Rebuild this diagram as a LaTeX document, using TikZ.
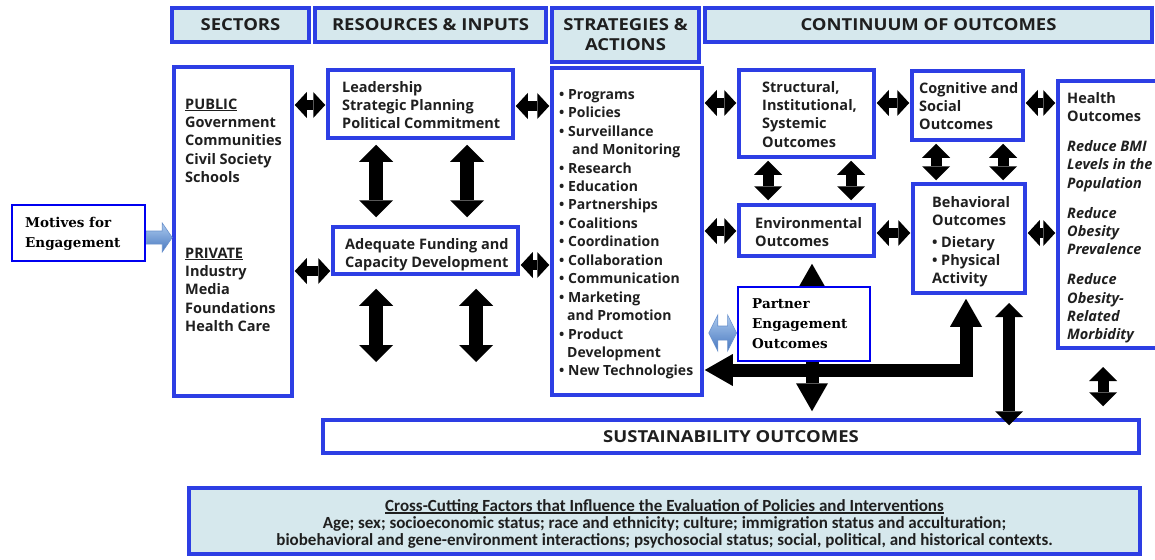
\documentclass[tikz,border=0pt]{standalone}
\usepackage{fontspec}
\setmainfont{Open Sans}
\newfontfamily\hdrfont{Open Sans}[FakeStretch=1.12]
\newfontfamily\serfont{DejaVu Serif}
\newfontfamily\botfont{Carlito}
\usetikzlibrary{arrows.meta,fit,calc}
\definecolor{bblue}{RGB}{45,62,228}
\definecolor{pblue}{RGB}{0,0,240}
\definecolor{hfill}{RGB}{214,232,237}
\definecolor{gtop}{RGB}{172,202,238}
\definecolor{gbot}{RGB}{72,120,192}
\definecolor{gedge}{RGB}{105,145,205}
\newcommand\fl{\rule{0pt}{11pt}}
\newcommand\ulx[1]{\setbox0\hbox{#1}\rlap{\rule[-2.2pt]{\wd0}{1.1pt}}\box0}
\newcommand\bul{\makebox[9pt][l]{•}}
\tikzset{
  box/.style={draw=bblue, line width=3.5pt, inner sep=0pt, fill=white},
  hbox/.style={box, fill=hfill},
  hdr/.style={inner sep=0pt, font=\hdrfont\bfseries\fontsize{16.5}{20}\selectfont, text=black!88},
  pbox/.style={draw=pblue, line width=2.8pt, inner sep=0pt, fill=white},
  txt/.style={anchor=north west, inner sep=0pt, align=left, font=\bfseries\fontsize{14.5}{18.3}\selectfont, text=black!88},
  stxt/.style={anchor=north west, inner sep=0pt, align=left, font=\serfont\bfseries\fontsize{13.5}{20}\selectfont, text=black},
  tipS/.tip={Triangle[length=12pt,width=26pt,line width=0pt]},
  tipV/.tip={Triangle[length=17pt,width=34pt,line width=0pt]},
  tipO/.tip={Triangle[length=14pt,width=28pt,line width=0pt]},
  tipB/.tip={Triangle[length=28pt,width=32pt,line width=0pt]},
  harr/.style={line width=10pt, tipS-tipS, shorten <=1pt, shorten >=1pt},
  varr/.style={line width=14pt, tipV-tipV},
  oarr/.style={line width=11pt, tipO-tipO},
  barr/.style={line width=13pt, tipB-tipB, line join=miter},
  garrow/.style={top color=gtop, bottom color=gbot, draw=gedge, line width=0.6pt}
}
\begin{document}
\begin{tikzpicture}[x=1pt,y=-1pt]
\useasboundingbox (0,0) rectangle (1155,559);
\fill[white] (0,0) rectangle (1155,559);

% headers
\node[hbox, fit={(172,8)(309,42)}] (hsec) {};
\node[hdr] (hsect) at (hsec.center) {SECTORS};
\node[hbox, fit={(315,8)(546,42)}] (hres) {};
\node[hdr] (hrest) at (hres.center) {RESOURCES \& INPUTS};
\node[hbox, fit={(552,8)(699,62)}] (hstr) {};
\node[hdr, align=center] (hstrt) at (hstr.center) {STRATEGIES \&\\ACTIONS};
\node[hbox, fit={(705,8)(1152,42)}] (hcon) {};
\node[hdr] (hcont) at (hcon.center) {CONTINUUM OF OUTCOMES};

% sectors
\node[box, fit={(174,67)(292,396)}] (sec) {};
\node[txt] (secpub) at (185,98) {\fl\ulx{PUBLIC}\\Government\\Communities\\Civil Society\\Schools};
\node[txt] (secpri) at (185,247) {\fl\ulx{PRIVATE}\\Industry\\Media\\Foundations\\Health Care};

% motives
\node[pbox, fit={(12,205)(145,261)}] (mot) {};
\node[stxt] (mott) at (25,216) {\fl Motives for\\Engagement};

% resources
\node[box, fit={(328,70)(513,138)}] (lead) {};
\node[txt] (leadt) at (342,81) {\fl Leadership\\Strategic Planning\\Political Commitment};
\node[box, fit={(333,227)(518,274)}] (fund) {};
\node[txt] (fundt) at (345,238) {\fl Adequate Funding and\\Capacity Development};

% strategies
\node[box, fit={(552,68)(702,395)}] (strat) {};
\node[txt, font=\bfseries\fontsize{14}{18.45}\selectfont] (stratt) at (559,88) {\fl\bul Programs\\\bul Policies\\\bul Surveillance\\\hspace*{13pt}and Monitoring\\\bul Research\\\bul Education\\\bul Partnerships\\\bul Coalitions\\\bul Coordination\\\bul Collaboration\\\bul Communication\\\bul Marketing\\\hspace*{8pt}and Promotion\\\bul Product\\\hspace*{8pt}Development\\\bul New Technologies};

% outcomes
\node[box, fit={(739,70)(874,157)}] (struct) {};
\node[txt] (structt) at (762,81) {\fl Structural,\\Institutional,\\Systemic\\Outcomes};
\node[box, fit={(739,205)(874,256)}] (env) {};
\node[txt] (envt) at (755,217) {\fl Environmental\\Outcomes};
\node[box, fit={(912,71)(1023,140)}] (cog) {};
\node[txt] (cogt) at (919,82) {\fl Cognitive and\\Social\\Outcomes};
\node[box, fit={(913,184)(1025,293)}] (beh) {};
\node[txt] (beht) at (932,196) {\fl Behavioral\\Outcomes\\[3.5pt]\bul Dietary\\\bul Physical\\Activity};
\node[box, fit={(1058,81)(1180,348)}] (health) {};
\node[txt] (healtht) at (1067,92) {\fl Health\\Outcomes\\[11.7pt]\textit{Reduce BMI}\\\textit{Levels in the}\\\textit{Population}\\[11.7pt]\textit{Reduce}\\\textit{Obesity}\\\textit{Prevalence}\\[11.7pt]\textit{Reduce}\\\textit{Obesity-}\\\textit{Related}\\\textit{Morbidity}};

% sustainability and cross-cutting
\node[box, fit={(323,420)(1139,453)}] (sust) {};
\node[hdr] (sustt) at (sust.center) {SUSTAINABILITY OUTCOMES};
\node[hbox, fit={(189,488)(1140,554)}] (cross) {};
\node[inner sep=0pt, align=center, text=black!88, font=\botfont\bfseries\fontsize{17}{17.2}\selectfont] (crosst) at ([yshift=-3pt]cross.center) {\ulx{Cross-Cutting Factors that Influence the Evaluation of Policies and Interventions}\\Age; sex; socioeconomic status; race and ethnicity; culture; immigration status and acculturation;\\biobehavioral and gene-environment interactions; psychosocial status; social, political, and historical contexts.};

% horizontal connectors
\draw[harr] (sec.east |- 0,105) -- (lead.west |- 0,105);
\draw[harr] (sec.east |- 0,271) -- (fund.west |- 0,271);
\draw[harr] (lead.east |- 0,106) -- (strat.west |- 0,106);
\draw[harr] (fund.east |- 0,265) -- (strat.west |- 0,265);
\draw[harr] (strat.east |- 0,103) -- (struct.west |- 0,103);
\draw[harr] (struct.east |- 0,103) -- (cog.west |- 0,103);
\draw[harr] (cog.east |- 0,103) -- (health.west |- 0,103);
\draw[harr] (strat.east |- 0,231) -- (env.west |- 0,231);
\draw[harr] (env.east |- 0,233) -- (beh.west |- 0,233);
\draw[harr] (beh.east |- 0,233) -- (health.west |- 0,233);

% vertical connectors, resources
\draw[varr, shorten <=5pt, shorten >=8pt] (lead.south -| 376,0) -- (fund.north -| 376,0);
\draw[varr, shorten <=5pt, shorten >=8pt] (lead.south -| 467,0) -- (fund.north -| 467,0);
\coordinate (fb1) at (376,362);
\coordinate (fb2) at (476,362);
\draw[varr, shorten <=13pt] (fund.south -| 376,0) -- (fb1);
\draw[varr, shorten <=13pt] (fund.south -| 476,0) -- (fb2);

% vertical connectors, outcomes
\draw[oarr, shorten <=2pt, shorten >=3pt] (struct.south -| 768,0) -- (env.north -| 768,0);
\draw[oarr, shorten <=2pt, shorten >=3pt] (struct.south -| 851,0) -- (env.north -| 851,0);
\draw[oarr, shorten <=2pt, shorten >=2pt] (cog.south -| 936,0) -- (beh.north -| 936,0);
\draw[oarr, shorten <=2pt, shorten >=2pt] (cog.south -| 1003,0) -- (beh.north -| 1003,0);

% big connectors
\draw[barr, shorten <=6pt, shorten >=7pt] (env.south -| 812,0) -- (sust.north -| 812,0);
\draw[barr, shorten <=1pt, shorten >=4pt] (strat.east |- 0,370) -| (beh.south -| 966,0);
\coordinate (dtop) at (1009,303);
\draw[barr, tipO-tipO, line width=12pt] (dtop) -- ([yshift=-7pt]sust.north -| 1009,0);
\coordinate (htop) at (1103,367);
\draw[oarr, shorten >=12pt] (htop) -- (sust.north -| 1103,0);

% partner engagement
\node[pbox, fit={(738,287)(870,361)}] (part) {};
\node[stxt] (partt) at (752,297) {\fl Partner\\Engagement\\Outcomes};

% gradient arrows
\coordinate (ma) at (mot.east |- 0,237.5);
\coordinate (mb) at (sec.west |- 0,237.5);
\shade[garrow] ($(ma)+(0,-6.5)$) -- ($(mb)+(-10,-6.5)$) -- ($(mb)+(-10,-14.5)$) -- (mb) -- ($(mb)+(-10,14.5)$) -- ($(mb)+(-10,6.5)$) -- ($(ma)+(0,6.5)$) -- cycle;
\coordinate (pa) at ([xshift=5pt]strat.east |- 0,333);
\coordinate (pb) at (part.west |- 0,333);
\shade[garrow] (pa) -- ($(pa)+(9,-18)$) -- ($(pa)+(9,-7)$) -- ($(pb)+(-9,-7)$) -- ($(pb)+(-9,-18)$) -- (pb) -- ($(pb)+(-9,18)$) -- ($(pb)+(-9,7)$) -- ($(pa)+(9,7)$) -- ($(pa)+(9,18)$) -- cycle;
\end{tikzpicture}
\end{document}
